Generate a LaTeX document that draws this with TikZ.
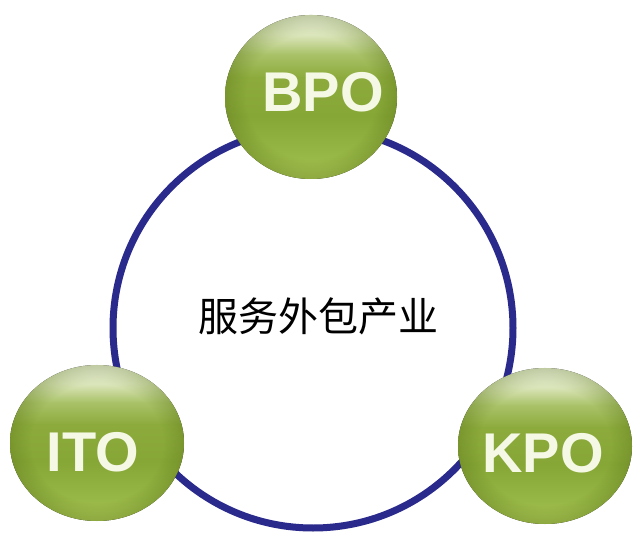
\documentclass[tikz,border=0pt]{standalone}
\usepackage{fontspec}
\setmainfont{Liberation Sans}
\newfontfamily\cjk{Noto Sans CJK SC}
\usetikzlibrary{fadings}
\definecolor{ringblue}{HTML}{2A2A8C}
\definecolor{ballbot}{HTML}{A9C556}
\definecolor{balllow}{HTML}{97B746}
\definecolor{ballmid}{HTML}{86A636}
\definecolor{ballmidb}{HTML}{8CAB3C}
\definecolor{ballup}{HTML}{A9C268}
\definecolor{ballhi}{HTML}{DCE6BC}
\definecolor{balltop}{HTML}{F6F9EE}
\definecolor{ballrim}{HTML}{5A7418}
\definecolor{labelwhite}{HTML}{F6F8E6}
\pgfdeclareverticalshading{ballshade}{100bp}{color(0bp)=(ballbot); color(25bp)=(ballbot); color(32bp)=(balllow); color(44bp)=(ballmid); color(56bp)=(ballmidb); color(63bp)=(ballup); color(69bp)=(ballhi); color(75bp)=(balltop); color(100bp)=(balltop)}
\pgfdeclareradialshading{rimshade}{\pgfpoint{0bp}{0bp}}{color(0bp)=(black); color(19bp)=(black); color(25bp)=(white!35!black); color(50bp)=(white!35!black)}
\pgfdeclarefading{rim}{\pgfuseshading{rimshade}}
\tikzset{
  ring/.style={draw=ringblue, line width=7pt},
  ballbody/.style={shading=ballshade},
  balledge/.style={fill=ballrim, path fading=rim},
  balltext/.style={text=labelwhite, inner sep=0pt, font=\fontsize{56}{56}\selectfont\bfseries},
  centertext/.style={text=black, inner sep=0pt, font=\cjk\fontsize{40}{44}\selectfont}
}
\begin{document}
\begin{tikzpicture}[x=1pt,y=1pt]
\useasboundingbox (0,0) rectangle (640,558);
\fill[white] (0,0) rectangle (640,558);
\coordinate (hub) at (313,230);
\draw[ring] (hub) circle (200);
\node[centertext] (core) at (318,242) {服务外包产业};
% BPO
\coordinate (bpoc) at (311,461);
\fill[ballbody] (bpoc) ellipse (86 and 82);
\fill[balledge] (bpoc) ellipse (86 and 82);
\node[balltext] (bpo) at (323,466) {BPO};
% ITO
\coordinate (itoc) at (97,115);
\fill[ballbody] (itoc) ellipse (87 and 78);
\fill[balledge] (itoc) ellipse (87 and 78);
\node[balltext] (ito) at (93,106) {ITO};
% KPO
\coordinate (kpoc) at (545,112);
\fill[ballbody] (kpoc) ellipse (87 and 78);
\fill[balledge] (kpoc) ellipse (87 and 78);
\node[balltext] (kpo) at (543,105) {KPO};
\end{tikzpicture}
\end{document}
